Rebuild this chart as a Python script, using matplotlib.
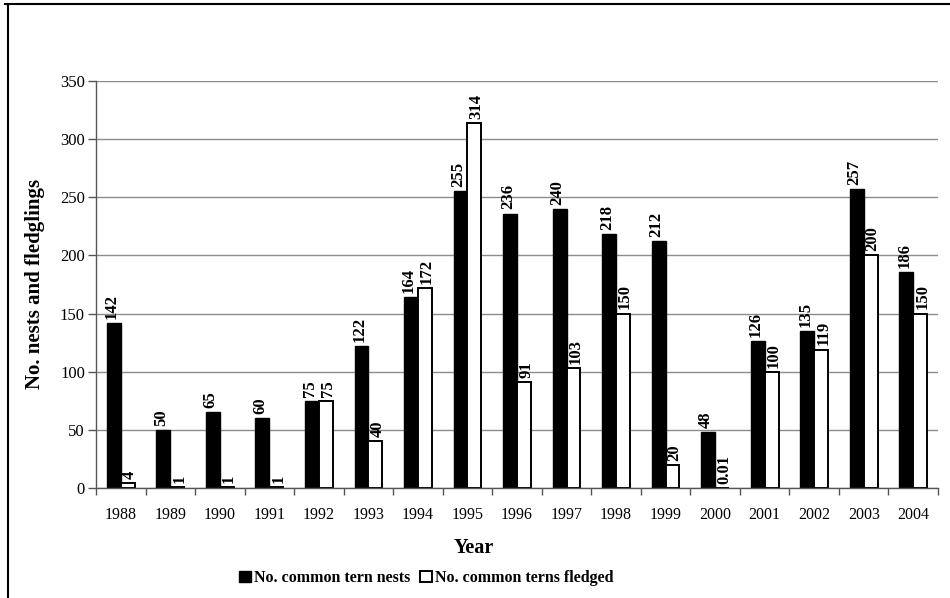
import matplotlib
matplotlib.use("Agg")
import matplotlib.pyplot as plt
from matplotlib.lines import Line2D
from matplotlib.patches import Patch
import numpy as np

years = ["1988", "1989", "1990", "1991", "1992", "1993", "1994", "1995", "1996",
         "1997", "1998", "1999", "2000", "2001", "2002", "2003", "2004"]
nests = [142, 50, 65, 60, 75, 122, 164, 255, 236, 240, 218, 212, 48, 126, 135, 257, 186]
fledged = [4, 1, 1, 1, 75, 40, 172, 314, 91, 103, 150, 20, 0.01, 100, 119, 200, 150]
y_ticks = [0, 50, 100, 150, 200, 250, 300, 350]

plt.rcParams["font.family"] = ["Liberation Serif", "DejaVu Serif"]

W, H = 950, 598
fig = plt.figure(figsize=(W / 100, H / 100), dpi=100)
fig.patch.set_facecolor("white")

def fx(px):
    return px / W

def fy(py):
    return 1 - py / H

ax = fig.add_axes([fx(96), fy(488), fx(938) - fx(96), fy(81) - fy(488)])

x = np.arange(len(years))
bw = 0.28
ax.bar(x - bw / 2, nests, width=bw, color="black", edgecolor="black",
       linewidth=1.0, zorder=3)
ax.bar(x + bw / 2, fledged, width=bw, color="white", edgecolor="black",
       linewidth=1.4, zorder=3)

def fmt(v):
    return f"{v:g}"

label_kw = dict(textcoords="offset points", rotation=90, ha="center", va="bottom",
                fontsize=12, fontweight="bold", zorder=4)
for xi, v in zip(x, nests):
    ax.annotate(fmt(v), (xi - bw / 2, v), xytext=(-1.5, 3), **label_kw)
for xi, v in zip(x, fledged):
    ax.annotate(fmt(v), (xi + bw / 2, v), xytext=(1.5, 3), **label_kw)

ax.set_xlim(-0.5, len(years) - 0.5)
ax.set_ylim(0, 350)
ax.set_yticks(y_ticks)
ax.set_yticklabels([str(t) for t in y_ticks], fontsize=12)
ax.set_xticks(x)
ax.set_xticklabels(years, fontsize=11.5)
ax.set_xticks(np.arange(-0.5, len(years), 1.0), minor=True)
ax.tick_params(axis="x", which="major", length=0, pad=14)
ax.tick_params(axis="x", which="minor", length=5, width=1, color="#555555",
               direction="out")
ax.tick_params(axis="y", length=6, width=1, color="#555555", direction="out", pad=2)

ax.yaxis.grid(True, color="#8c8c8c", linewidth=1.0, zorder=0)
ax.set_axisbelow(True)
for s in ("top", "right"):
    ax.spines[s].set_visible(False)
for s in ("left", "bottom"):
    ax.spines[s].set_color("#555555")
    ax.spines[s].set_linewidth(1.0)
    ax.spines[s].set_zorder(5)

fig.text(fx(35), fy(284), "No. nests and fledglings", rotation=90, ha="center",
         va="center", fontsize=15, fontweight="bold")
fig.text(fx(474), fy(548), "Year", ha="center", va="center", fontsize=14.5,
         fontweight="bold")

handles = [Patch(facecolor="black", edgecolor="black"),
           Patch(facecolor="white", edgecolor="black", linewidth=1.4)]
fig.legend(handles, ["No. common tern nests", "No. common terns fledged"],
           loc="center", bbox_to_anchor=(fx(426), fy(578)), ncol=2,
           frameon=False, handlelength=0.75, handleheight=0.75,
           handletextpad=0.2, columnspacing=0.6,
           prop={"weight": "bold", "size": 11.5})

# outer frame
fig.add_artist(Line2D([fx(5), 1.0], [fy(4), fy(4)], color="black", linewidth=1.5,
                      transform=fig.transFigure))
fig.add_artist(Line2D([fx(8), fx(8)], [fy(4), 0.0], color="black", linewidth=1.5,
                      transform=fig.transFigure))

fig.savefig("out.png", dpi=100, facecolor="white")
